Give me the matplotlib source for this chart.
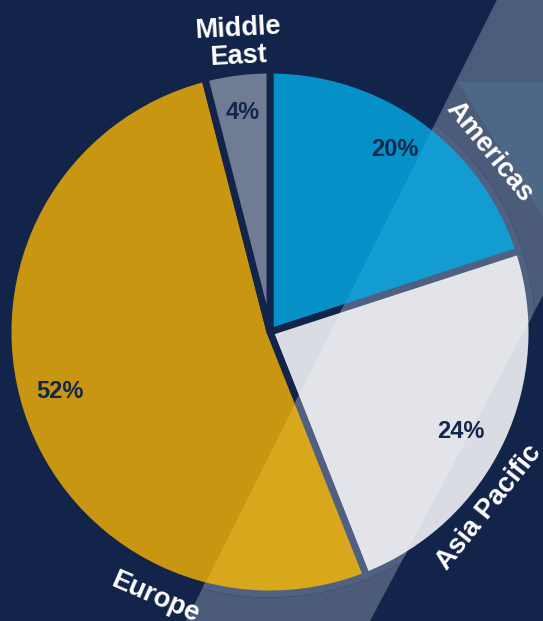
import numpy as np
import matplotlib
matplotlib.use("Agg")
import matplotlib.pyplot as plt
from matplotlib.patches import Polygon

# data
regions = ["Americas", "Asia Pacific", "Europe", "Middle East"]
shares = [20, 24, 52, 4]
label_text = ["Americas", "Asia Pacific", "Europe", "Middle\nEast"]

bg = "#12244a"
colors = ["#0590c8", "#d9dce3", "#c89610", "#6f7c94"]
colors_band = ["#139cd2", "#e2e4ea", "#d8a71c", "#7c8aa2"]
band_col = "#4b5b79"
band_gap = "#4f6080"

W, H = 543, 621
fig = plt.figure(figsize=(W / 100, H / 100), dpi=100)
fig.patch.set_facecolor(bg)
ax = fig.add_axes([0, 0, 1, 1])
ax.set_facecolor(bg)

cx, cy, R = 270, H - 332, 262

# translucent diagonal band (image coords -> data coords, y up)
band = Polygon([(497, H), (700, H), (370, 0), (186, 0)], closed=True,
               facecolor=band_col, edgecolor="none", zorder=0)
ax.add_patch(band)
tri = Polygon([(458, H - 82), (W + 5, H - 82), (W + 5, H - 225)], closed=True,
              facecolor="#4d6786", edgecolor="none", zorder=0.5)
ax.add_patch(tri)
top = Polygon([(497, H), (W + 5, H), (W + 5, H - 82), (456, H - 82)], closed=True,
              facecolor="#4a5d7c", edgecolor="none", zorder=0.5)
ax.add_patch(top)

font = "Liberation Sans"

wedges, _, autotexts = ax.pie(
    shares, colors=colors, startangle=90, counterclock=False,
    center=(cx, cy), radius=R,
    wedgeprops=dict(edgecolor=bg, linewidth=5),
    autopct="%d%%", pctdistance=0.845,
    textprops=dict(color="#13264b", fontsize=17, fontweight="bold", family=font))
for t in autotexts:
    t.set_zorder(5)
# small nudges so the numbers sit where the original has them
autotexts[0].set_position((cx + 125, cy + 183))
autotexts[1].set_position((cx + 191, cy - 100))
autotexts[2].set_position((cx - 210, cy - 60))

# lighter copy of the pie seen through the band
wedges2, _ = ax.pie(
    shares, colors=colors_band, startangle=90, counterclock=False,
    center=(cx, cy), radius=R,
    wedgeprops=dict(edgecolor=band_gap, linewidth=5))
for w in wedges2:
    w.set_clip_on(True)
    w.set_clip_path(band)

# outer labels, rotated along the rim
label_ang = [39.3, -38.7, -113.4, 96.3]
label_r = [284, 281, 289, 291]
label_rot = [-50.7, 51.3, -23.4, 3]
for txt, a, r, rot in zip(label_text, label_ang, label_r, label_rot):
    th = np.deg2rad(a)
    ax.text(cx + r * np.cos(th), cy + r * np.sin(th), txt,
            color="white", fontsize=19.5, fontweight="bold", family=font,
            ha="center", va="center", rotation=rot, rotation_mode="anchor",
            linespacing=1.1, zorder=6)

ax.set_xlim(0, W)
ax.set_ylim(0, H)
ax.set_aspect("equal")
ax.axis("off")

fig.savefig("out.png", dpi=100, facecolor=bg)
